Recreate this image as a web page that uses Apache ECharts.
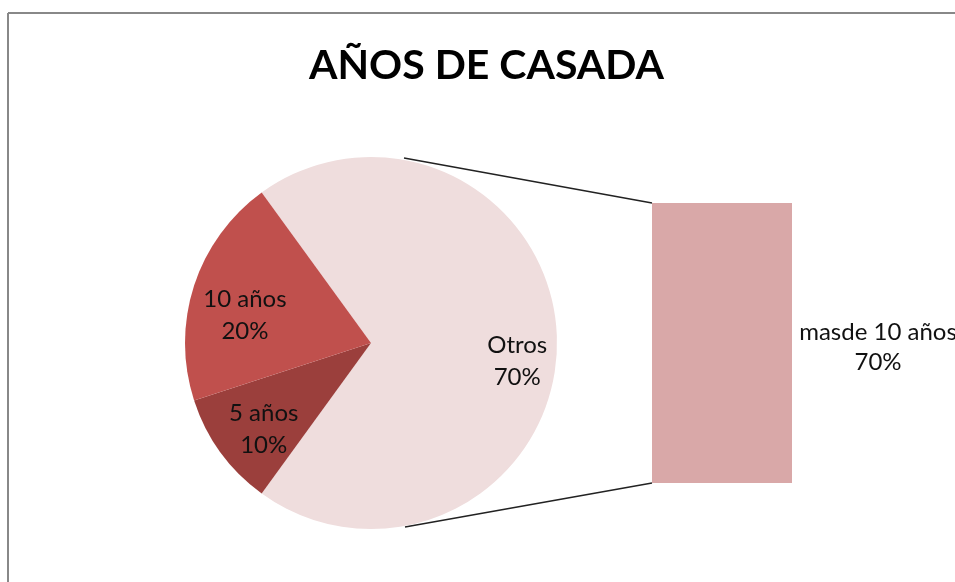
<!DOCTYPE html>
<html>
<head>
<meta charset="utf-8">
<script src="https://cdn.jsdelivr.net/npm/echarts@6/dist/echarts.min.js"></script>
<style>
  html, body { margin: 0; padding: 0; background: #fff; }
  #chart { width: 955px; height: 582px; }
</style>
</head>
<body>
<div id="chart"></div>
<script>
// pie slices (clockwise from the top-left edge)
let pieNames = ["Otros", "5 años", "10 años"];
let pieValues = [70, 10, 20];
let pieColors = ["#EFDDDD", "#9B3F3C", "#C0504D"];
// small nudges so labels sit where Excel put them
let labelOffsets = [[0, 18], [11, 0], [13, 17]];

// the "Otros" breakdown shown as the bar
let barNames = ["masde 10 años"];
let barValues = [70];

let cx = 371, cy = 343, r = 186;

let chart = echarts.init(document.getElementById("chart"));

let pieData = pieNames.map(function (n, i) {
    return {name: n, value: pieValues[i], itemStyle: {color: pieColors[i]}};
});

let option = {
    animation: false,
    title: {
        text: "AÑOS DE CASADA",
        left: 304,
        top: 40,
        textStyle: {fontFamily: "Lato", fontWeight: "bold", fontSize: 41, color: "#000"}
    },
    grid: {left: 652, top: 203, width: 140, height: 280},
    xAxis: {type: "category", data: ["x"], show: false},
    yAxis: {type: "value", min: 0, max: 70, show: false},
    graphic: [
        // chart frame (only top and left edges visible)
        {type: "line", shape: {x1: 8, y1: 13, x2: 955, y2: 13}, style: {stroke: "#888", lineWidth: 2}},
        {type: "line", shape: {x1: 8, y1: 13, x2: 8, y2: 582}, style: {stroke: "#888", lineWidth: 2}},
        // connector lines pie -> bar
        {type: "line", shape: {x1: 404, y1: 158, x2: 652, y2: 203}, style: {stroke: "#222", lineWidth: 1.5}},
        {type: "line", shape: {x1: 405, y1: 527, x2: 652, y2: 483}, style: {stroke: "#222", lineWidth: 1.5}}
    ],
    series: [
        {
            type: "pie",
            center: [cx, cy],
            radius: [0, r],
            startAngle: 126,
            silent: true,
            label: {show: false},
            labelLine: {show: false},
            itemStyle: {borderWidth: 0},
            data: pieData
        },
        {
            // transparent ring just to place the labels at ~0.77 r
            type: "pie",
            center: [cx, cy],
            radius: [r * 0.54, r],
            startAngle: 126,
            silent: true,
            itemStyle: {color: "transparent", borderWidth: 0},
            label: {
                show: true,
                position: "inside",
                formatter: "{b}\n{c}%",
                fontFamily: "Lato",
                fontSize: 24,
                lineHeight: 32,
                color: "#111"
            },
            data: pieNames.map(function (n, i) {
                return {name: n, value: pieValues[i], label: {offset: labelOffsets[i]}};
            })
        },
        {
            type: "bar",
            barWidth: "100%",
            itemStyle: {color: "#D9A8A8"},
            label: {
                show: true,
                position: [226, "50%"],
                offset: [0, 4],
                align: "center",
                verticalAlign: "middle",
                formatter: barNames[0] + "\n{c}%",
                fontFamily: "Lato",
                fontSize: 24,
                lineHeight: 30,
                color: "#111"
            },
            data: barValues
        }
    ]
};
chart.setOption(option);
</script>
</body>
</html>
